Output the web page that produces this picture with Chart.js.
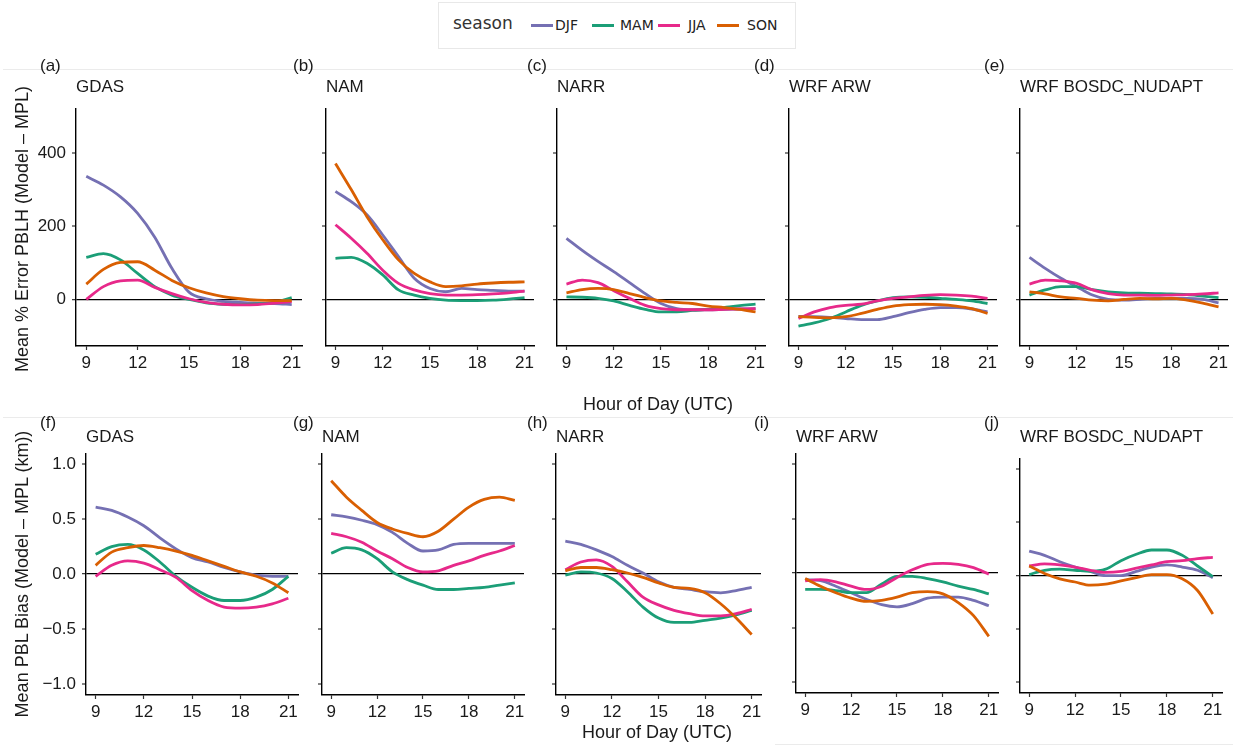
<!DOCTYPE html>
<html>
<head>
<meta charset="utf-8">
<script src="https://cdn.jsdelivr.net/npm/chart.js@4.4.0/dist/chart.umd.min.js"></script>
<style>
  body { margin: 0; background: #fff; width: 1233px; height: 746px; position: relative; overflow: hidden;
         font-family: "Liberation Sans", Arial, sans-serif; color: #1a1a1a; }
  .panel { position: absolute; }
  .txt { position: absolute; white-space: nowrap; line-height: 1; }
  .ttl { font-size: 17px; }
  .axt { font-size: 18px; }
  .ytl { font-size: 18px; transform: translate(-50%, -50%) rotate(-90deg); }
  .sep { position: absolute; height: 1px; background: #ebebeb; }
  .legend { position: absolute; left: 438px; top: 2px; width: 356px; height: 45px; border: 1px solid #e8e8e8;
            font-family: "DejaVu Sans", sans-serif; }
  .key { position: absolute; height: 3px; top: 21px; width: 22px; }
  .lab { position: absolute; top: 15px; font-size: 14px; color: #222; line-height: 1; }
</style>
</head>
<body>
<div class="sep" style="left:3px; top:69px; width:1230px;"></div>
<div class="sep" style="left:3px; top:417px; width:1230px;"></div>
<div class="sep" style="left:775px; top:744px; width:458px;"></div>

<div class="legend">
  <div class="lab" style="left:14px; top:12px; font-size:17px; color:#333;">season</div>
  <div id="legendItems"></div>
</div>

<script>
// hours of day (x) and ticks
const hours = [9, 10, 11, 12, 13, 14, 15, 16, 17, 18, 19, 20, 21];
const hourTicks = [9, 12, 15, 18, 21];
const pctTicks = [0, 200, 400];
const biasTicks = [-1, -0.5, 0, 0.5, 1];

const seasons = ['DJF', 'MAM', 'JJA', 'SON'];
const seasonColors = ['#7570b3', '#1b9e77', '#e7298a', '#d95f02'];

// top row: mean % error PBLH
const gdasPct_DJF = [336, 312, 280, 235, 170, 85, 20, 2, -5, -8, -10, -11, -14];
const gdasPct_MAM = [115, 125, 108, 71, 35, 12, 0, -9, -13, -14, -12, -8, 5];
const gdasPct_JJA = [0, 35, 51, 53, 33, 16, 2, -8, -13, -15, -14, -10, -6];
const gdasPct_SON = [42, 82, 101, 103, 80, 52, 32, 18, 8, 2, -2, -3, -3];

const namPct_DJF = [295, 267, 231, 176, 117, 58, 30, 21, 30, 27, 25, 23, 23];
const namPct_MAM = [112, 115, 99, 67, 26, 12, 3, -2, -3, -3, -2, 1, 5];
const namPct_JJA = [204, 167, 126, 80, 44, 26, 16, 12, 12, 13, 15, 18, 23];
const namPct_SON = [371, 300, 226, 163, 108, 71, 48, 35, 37, 42, 45, 47, 48];

const narrPct_DJF = [167, 134, 104, 76, 46, 16, -11, -25, -28, -28, -27, -26, -25];
const narrPct_MAM = [7, 6, 3, -4, -16, -27, -34, -34, -30, -27, -22, -17, -13];
const narrPct_JJA = [42, 53, 46, 24, 3, -16, -25, -28, -28, -28, -27, -26, -25];
const narrPct_SON = [18, 27, 30, 27, 16, 5, -4, -8, -11, -18, -22, -27, -34];

const arwPct_DJF = [-46, -47, -49, -52, -55, -55, -47, -36, -27, -22, -22, -26, -34];
const arwPct_MAM = [-73, -64, -52, -34, -16, -4, 5, 7, 6, 3, 0, -4, -11];
const arwPct_JJA = [-52, -34, -22, -16, -13, -4, 3, 7, 11, 13, 12, 9, 3];
const arwPct_SON = [-47, -49, -50, -47, -38, -27, -18, -14, -13, -14, -18, -25, -38];

const bosPct_DJF = [115, 85, 58, 35, 12, 0, -2, 0, 3, 3, 3, 0, -9];
const bosPct_MAM = [12, 26, 35, 35, 27, 21, 18, 17, 16, 15, 13, 9, 5];
const bosPct_JJA = [42, 53, 51, 44, 26, 16, 12, 12, 11, 12, 13, 15, 18];
const bosPct_SON = [21, 15, 7, 3, -2, -4, 0, 3, 2, 3, -2, -10, -20];

// bottom row: mean PBL bias (km)
const gdasBias_DJF = [0.61, 0.58, 0.52, 0.44, 0.33, 0.23, 0.15, 0.11, 0.06, 0.02, -0.01, -0.02, -0.02];
const gdasBias_MAM = [0.18, 0.25, 0.27, 0.22, 0.11, -0.02, -0.12, -0.20, -0.24, -0.24, -0.21, -0.14, -0.02];
const gdasBias_JJA = [-0.02, 0.08, 0.12, 0.10, 0.04, -0.03, -0.15, -0.24, -0.30, -0.31, -0.30, -0.27, -0.22];
const gdasBias_SON = [0.08, 0.20, 0.24, 0.26, 0.24, 0.21, 0.17, 0.12, 0.07, 0.02, -0.02, -0.08, -0.17];

const namBias_DJF = [0.54, 0.52, 0.49, 0.45, 0.38, 0.28, 0.21, 0.22, 0.27, 0.28, 0.28, 0.28, 0.28];
const namBias_MAM = [0.19, 0.24, 0.22, 0.14, 0.02, -0.05, -0.10, -0.14, -0.14, -0.13, -0.12, -0.10, -0.08];
const namBias_JJA = [0.37, 0.34, 0.29, 0.21, 0.14, 0.06, 0.02, 0.03, 0.08, 0.12, 0.17, 0.21, 0.26];
const namBias_SON = [0.85, 0.70, 0.58, 0.47, 0.41, 0.37, 0.34, 0.39, 0.50, 0.61, 0.68, 0.70, 0.67];

const narrBias_DJF = [0.30, 0.27, 0.22, 0.16, 0.08, 0.01, -0.07, -0.12, -0.14, -0.16, -0.17, -0.15, -0.12];
const narrBias_MAM = [-0.01, 0.02, 0.01, -0.04, -0.16, -0.30, -0.40, -0.44, -0.44, -0.42, -0.40, -0.37, -0.33];
const narrBias_JJA = [0.04, 0.11, 0.13, 0.07, -0.07, -0.21, -0.28, -0.33, -0.36, -0.38, -0.38, -0.36, -0.32];
const narrBias_SON = [0.03, 0.06, 0.06, 0.04, 0.01, -0.03, -0.08, -0.12, -0.13, -0.17, -0.27, -0.40, -0.55];

const arwBias_DJF = [-0.06, -0.07, -0.12, -0.18, -0.24, -0.29, -0.31, -0.28, -0.23, -0.22, -0.22, -0.25, -0.30];
const arwBias_MAM = [-0.15, -0.15, -0.16, -0.18, -0.18, -0.10, -0.03, -0.03, -0.05, -0.08, -0.12, -0.15, -0.19];
const arwBias_JJA = [-0.07, -0.06, -0.08, -0.12, -0.15, -0.12, -0.04, 0.03, 0.08, 0.09, 0.08, 0.05, -0.01];
const arwBias_SON = [-0.05, -0.12, -0.18, -0.23, -0.26, -0.25, -0.22, -0.18, -0.17, -0.19, -0.27, -0.39, -0.58];

const bosBias_DJF = [0.23, 0.19, 0.13, 0.08, 0.04, 0.00, 0.00, 0.04, 0.08, 0.10, 0.08, 0.05, -0.02];
const bosBias_MAM = [0.01, 0.05, 0.06, 0.05, 0.04, 0.06, 0.14, 0.20, 0.24, 0.24, 0.19, 0.09, -0.01];
const bosBias_JJA = [0.09, 0.11, 0.10, 0.08, 0.05, 0.03, 0.04, 0.07, 0.10, 0.13, 0.14, 0.16, 0.17];
const bosBias_SON = [0.09, 0.02, -0.03, -0.06, -0.09, -0.08, -0.05, -0.02, 0.01, 0.01, -0.03, -0.14, -0.36];

const FONT = '"Liberation Sans", Arial, sans-serif';

// box = [axis left, plot right, plot top, axis bottom] in page pixels
const panels = [
  { tag: '(a)', name: 'GDAS', box: [76, 302, 108, 346], series: [gdasPct_DJF, gdasPct_MAM, gdasPct_JJA, gdasPct_SON], kind: 'pct', labels: true, tagX: 40 },
  { tag: '(b)', name: 'NAM', box: [326, 534, 108, 346], series: [namPct_DJF, namPct_MAM, namPct_JJA, namPct_SON], kind: 'pct', tagX: 293 },
  { tag: '(c)', name: 'NARR', box: [557, 765, 108, 346], series: [narrPct_DJF, narrPct_MAM, narrPct_JJA, narrPct_SON], kind: 'pct', tagX: 527 },
  { tag: '(d)', name: 'WRF ARW', box: [789, 997, 108, 346], series: [arwPct_DJF, arwPct_MAM, arwPct_JJA, arwPct_SON], kind: 'pct', tagX: 754 },
  { tag: '(e)', name: 'WRF BOSDC_NUDAPT', box: [1020, 1228, 108, 346], series: [bosPct_DJF, bosPct_MAM, bosPct_JJA, bosPct_SON], kind: 'pct', tagX: 984 },
  { tag: '(f)', name: 'GDAS', box: [86, 298, 453, 695], series: [gdasBias_DJF, gdasBias_MAM, gdasBias_JJA, gdasBias_SON], kind: 'bias', labels: true, tagX: 40 },
  { tag: '(g)', name: 'NAM', box: [322, 524, 453, 695], series: [namBias_DJF, namBias_MAM, namBias_JJA, namBias_SON], kind: 'bias', tagX: 293 },
  { tag: '(h)', name: 'NARR', box: [556, 761, 453, 695], series: [narrBias_DJF, narrBias_MAM, narrBias_JJA, narrBias_SON], kind: 'bias', tagX: 527 },
  { tag: '(i)', name: 'WRF ARW', box: [796, 998, 453, 693], series: [arwBias_DJF, arwBias_MAM, arwBias_JJA, arwBias_SON], kind: 'bias', tagX: 754 },
  { tag: '(j)', name: 'WRF BOSDC_NUDAPT', box: [1020, 1222, 458, 693], series: [bosBias_DJF, bosBias_MAM, bosBias_JJA, bosBias_SON], kind: 'bias', tagX: 984 }
];

function addText(cls, text, left, top, extra) {
  const d = document.createElement('div');
  d.className = 'txt ' + cls;
  d.textContent = text;
  d.style.left = left + 'px';
  d.style.top = top + 'px';
  if (extra) Object.assign(d.style, extra);
  document.body.appendChild(d);
  return d;
}

function fmtBias(v) {
  if (v === 0) return '0.0';
  return (v < 0 ? '\u2212' : '') + Math.abs(v).toFixed(1);
}

function drawPanel(p) {
  const padL = p.labels ? 62 : 12, padT = 16, padR = 12, padB = 30;
  const [l, r, t, b] = p.box;
  const w = padL + (r - l) + padR;
  const h = padT + (b - t) + padB;

  const wrap = document.createElement('div');
  wrap.className = 'panel';
  wrap.style.left = (l - padL) + 'px';
  wrap.style.top = (t - padT) + 'px';
  const canvas = document.createElement('canvas');
  canvas.width = w;
  canvas.height = h;
  canvas.style.width = w + 'px';
  canvas.style.height = h + 'px';
  wrap.appendChild(canvas);
  document.body.appendChild(wrap);

  const isPct = p.kind === 'pct';
  const yTicks = isPct ? pctTicks : biasTicks;

  new Chart(canvas, {
    type: 'line',
    data: {
      datasets: p.series.map((vals, i) => ({
        label: seasons[i],
        data: hours.map((hr, k) => ({ x: hr, y: vals[k] })),
        borderColor: seasonColors[i],
        borderWidth: 2.8,
        pointRadius: 0,
        cubicInterpolationMode: 'monotone',
        fill: false,
        order: seasons.length - 1 - i
      }))
    },
    options: {
      responsive: false,
      animation: false,
      events: [],
      layout: { padding: { top: padT, right: padR, left: 0, bottom: 0 } },
      plugins: { legend: { display: false }, tooltip: { enabled: false } },
      scales: {
        x: {
          type: 'linear',
          min: 8.4,
          max: 21.6,
          afterBuildTicks: s => { s.ticks = hourTicks.map(v => ({ value: v })); },
          afterFit: s => { s.height = padB; },
          border: { display: true, color: '#000', width: 1.4 },
          grid: { drawOnChartArea: false, drawTicks: true, tickLength: 4, tickColor: '#333', tickWidth: 1.2 },
          ticks: { font: { family: FONT, size: 17 }, color: '#1a1a1a', padding: 3, maxRotation: 0, autoSkip: false }
        },
        y: {
          min: isPct ? -127 : -1.1,
          max: isPct ? 522 : 1.1,
          afterBuildTicks: s => { s.ticks = yTicks.map(v => ({ value: v })); },
          afterFit: s => { s.width = padL; },
          border: { display: true, color: '#000', width: 1.4 },
          grid: {
            drawOnChartArea: true,
            drawTicks: true,
            tickLength: 4,
            tickColor: '#333',
            tickWidth: 1.2,
            color: ctx => (ctx.tick && ctx.tick.value === 0) ? '#000' : 'rgba(0,0,0,0)',
            lineWidth: ctx => (ctx.tick && ctx.tick.value === 0) ? 1.3 : 0
          },
          ticks: {
            font: { family: FONT, size: 17 },
            color: '#1a1a1a',
            padding: 6,
            autoSkip: false,
            callback: v => p.labels ? (isPct ? String(v) : fmtBias(v)) : ''
          }
        }
      }
    }
  });

  const topRow = isPct;
  addText('ttl', p.name, l, topRow ? 78 : 428);
  addText('ttl', p.tag, p.tagX, topRow ? 57 : 414);
}

panels.forEach(drawPanel);

// axis titles
addText('axt', 'Hour of Day (UTC)', 583, 395);
addText('axt', 'Hour of Day (UTC)', 582, 723);
addText('ytl', 'Mean % Error PBLH (Model \u2013 MPL)', 22, 229);
addText('ytl', 'Mean PBL Bias (Model \u2013 MPL (km))', 22, 574);

// legend
const legendItems = document.getElementById('legendItems');
const keyLeft = [92, 153, 219, 278];
const labLeft = [116, 181, 249, 308];
seasons.forEach((s, i) => {
  const k = document.createElement('div');
  k.className = 'key';
  k.style.left = keyLeft[i] + 'px';
  k.style.background = seasonColors[i];
  legendItems.appendChild(k);
  const t = document.createElement('div');
  t.className = 'lab';
  t.style.left = labLeft[i] + 'px';
  t.textContent = s;
  legendItems.appendChild(t);
});
</script>
</body>
</html>
